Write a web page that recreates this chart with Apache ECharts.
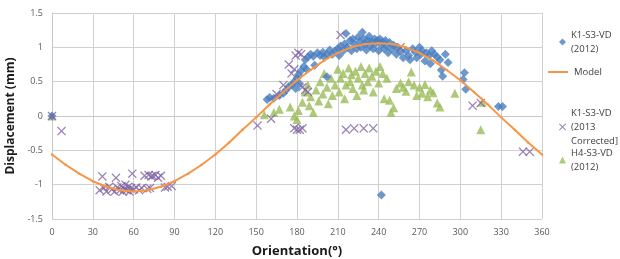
<!DOCTYPE html>
<html>
<head>
<meta charset="utf-8">
<script src="https://cdn.jsdelivr.net/npm/echarts@6/dist/echarts.min.js"></script>
<style>
html,body{margin:0;padding:0;background:#fff;}
#main{width:620px;height:259px;}
</style>
</head>
<body>
<div id="main"></div>
<script>
var xTicks = [0, 30, 60, 90, 120, 150, 180, 210, 240, 270, 300, 330, 360];
var yTicks = [-1.5, -1, -0.5, 0, 0.5, 1, 1.5];
var seriesNames = ['K1-S3-VD (2012)', 'Model', 'K1-S3-VD (2013 Corrected)', 'H4-S3-VD (2012)'];
var legendLabels = ['K1-S3-VD\n(2012)', 'Model', 'K1-S3-VD\n(2013\nCorrected]', 'H4-S3-VD\n(2012)'];
var colorList = ['#4a7ebf', '#f79646', '#8064a2', '#9bbb59'];

// 模型曲线 (每10度读一个点)
var modelAngle = [0,10,20,30,40,50,60,70,80,90,100,110,120,130,140,150,160,170,180,190,200,210,220,230,240,250,260,270,280,290,300,310,320,330,340,350,360];
var modelValue = [-0.56,-0.71,-0.84,-0.95,-1.03,-1.08,-1.1,-1.08,-1.03,-0.95,-0.84,-0.71,-0.56,-0.39,-0.2,-0.02,0.17,0.35,0.52,0.67,0.81,0.92,1.0,1.05,1.06,1.05,1.0,0.92,0.81,0.67,0.52,0.35,0.17,-0.02,-0.2,-0.39,-0.56];

// K1-S3-VD (2012)
var k1Data2012 = [
    [0,0],[158,0.24],[160,0.27],[163,0.26],[167,0.3],[170,0.33],[172,0.38],[174,0.43],[176,0.45],[178,0.5],
    [179,0.4],[180,0.55],[181,0.6],[182,0.47],[183,0.66],[185,0.72],[187,0.68],[186,0.82],[188,0.86],[190,0.9],
    [192,0.87],[193,0.74],[195,0.92],[197,0.88],[199,0.93],[200,0.86],[202,0.57],[202,0.9],[204,0.96],[206,0.9],
    [208,0.95],[210,0.98],[211,0.88],[212,1.02],[214,0.95],[215,1.05],[216,1.2],[217,1.0],[219,1.1],[220,0.95],
    [221,1.12],[222,1.05],[224,0.98],[225,1.15],[226,1.08],[227,1.0],[228,1.22],[229,1.12],[230,1.05],[231,0.96],
    [232,1.1],[233,1.16],[234,1.02],[235,1.08],[236,0.98],[237,1.12],[238,1.06],[239,1.1],[240,0.95],[241,1.12],
    [242,1.04],[243,1.08],[244,0.98],[245,1.1],[246,1.02],[247,0.92],[248,1.07],[250,0.97],[251,1.03],[253,0.9],
    [254,1.0],[256,0.94],[258,0.85],[260,0.95],[262,0.88],[263,0.82],[265,0.98],[267,0.93],[268,0.85],[270,1.0],
    [271,0.9],[272,0.95],[274,0.8],[275,0.92],[277,0.88],[278,0.76],[279,0.95],[281,0.9],[283,0.86],[285,0.82],
    [286,0.67],[287,0.58],[289,0.9],[291,0.78],[303,0.63],[302,0.53],[304,0.39],[328,0.14],[331,0.14],[242,-1.15]
];

// K1-S3-VD (2013 Corrected)
var k1Data2013 = [
    [0,0],[7,-0.22],[35,-1.08],[37,-0.88],[38,-1.05],[40,-1.1],[42,-1.03],[44,-1.07],[46,-1.1],[47,-0.9],
    [48,-1.04],[50,-1.08],[51,-1.02],[52,-1.1],[53,-1.06],[54,-1.0],[55,-1.08],[56,-1.03],[57,-1.1],[58,-1.05],
    [59,-0.84],[60,-1.07],[62,-1.04],[64,-1.08],[66,-1.05],[68,-0.87],[70,-1.06],[71,-0.86],[72,-1.05],[73,-0.88],
    [74,-0.87],[76,-0.86],[78,-0.9],[80,-0.87],[83,-1.04],[85,-1.03],[88,-1.02],
    [151,-0.14],[161,-0.04],[165,0.32],[170,0.45],[174,0.75],[176,0.62],[178,0.68],[179,0.88],[181,0.92],[183,0.9],
    [184,0.42],[186,0.38],[188,0.35],[178,-0.18],[180,-0.2],[182,-0.2],[184,-0.18],[212,1.18],[216,-0.2],[222,-0.18],
    [229,-0.18],[236,-0.18],[256,1.0],[309,0.15],[315,0.19],[346,-0.52],[351,-0.52]
];

// H4-S3-VD (2012)
var h4Data2012 = [
    [0,0],[156,0.02],[163,0.05],[167,0.1],[175,0.13],[178,0.0],[180,-0.05],[181,0.08],[184,0.2],[186,0.35],
    [188,0.45],[189,0.15],[190,0.28],[192,0.05],[194,0.38],[196,0.22],[197,0.5],[199,0.32],[200,0.62],[202,0.42],
    [203,0.18],[205,0.55],[206,0.3],[208,0.45],[210,0.68],[211,0.35],[212,0.55],[214,0.62],[215,0.25],[216,0.45],
    [218,0.7],[219,0.5],[220,0.6],[221,0.4],[223,0.65],[224,0.3],[225,0.55],[227,0.72],[228,0.45],[229,0.38],
    [230,0.62],[232,0.5],[233,0.7],[235,0.58],[236,0.35],[238,0.65],[240,0.48],[241,0.72],[243,0.62],[244,0.25],
    [246,0.55],[248,0.23],[249,0.05],[251,0.12],[253,0.4],[256,0.48],[258,0.42],[260,0.36],[262,0.5],[264,0.64],
    [266,0.45],[268,0.3],[270,0.42],[272,0.33],[274,0.46],[276,0.28],[278,0.38],[280,0.34],[283,0.19],[285,0.13],
    [296,0.33],[316,0.2],[315,-0.2]
];

var crossPath = 'path://M0,1 L1,0 L5,4 L9,0 L10,1 L6,5 L10,9 L9,10 L5,6 L1,10 L0,9 L4,5 Z';
var linePath = 'path://M0,0 L20,0 L20,2 L0,2 Z';

var myChart = echarts.init(document.getElementById('main'));

var modelData = [];
for (var i = 0; i < modelAngle.length; i++) {
    modelData.push([modelAngle[i], modelValue[i]]);
}

var legendTops = [28, 65, 106, 146];
var legendLefts = [559, 548, 559, 559];
var legendIcons = ['diamond', linePath, crossPath, 'triangle'];
var legends = [];
for (var k = 0; k < seriesNames.length; k++) {
    legends.push({
        data: [{name: seriesNames[k], icon: legendIcons[k]}],
        left: legendLefts[k],
        top: legendTops[k],
        padding: 0,
        orient: 'vertical',
        itemWidth: k == 1 ? 22 : 7,
        itemHeight: k == 1 ? 2 : 7,
        selectedMode: false,
        formatter: (function (idx) {
            return function () { return legendLabels[idx]; };
        })(k),
        textStyle: {
            fontFamily: 'Open Sans',
            fontSize: 9.5,
            color: '#404040',
            lineHeight: 14
        }
    });
}

var option = {
    backgroundColor: '#fff',
    animation: false,
    grid: {
        left: 52,
        right: 78,
        top: 13,
        bottom: 40,
        containLabel: false,
        outerBoundsMode: 'none'
    },
    legend: legends,
    xAxis: {
        type: 'value',
        min: 0,
        max: 360,
        interval: 30,
        name: 'Orientation(°)',
        nameLocation: 'middle',
        nameGap: 26,
        nameTextStyle: {
            fontFamily: 'Open Sans',
            fontWeight: 'bold',
            fontSize: 13,
            color: '#1a1a1a'
        },
        axisLine: {show: true, lineStyle: {color: '#c8c8c8'}},
        axisTick: {show: false},
        axisLabel: {
            margin: 9,
            fontFamily: 'Open Sans',
            fontSize: 9,
            color: '#595959',
            formatter: function (v) { return xTicks.indexOf(v) >= 0 ? String(v) : ''; }
        },
        splitLine: {show: true, lineStyle: {color: '#d0d0d0'}}
    },
    yAxis: {
        type: 'value',
        min: -1.5,
        max: 1.5,
        interval: 0.5,
        name: 'Displacement (mm)',
        nameLocation: 'middle',
        nameGap: 31,
        nameTextStyle: {
            fontFamily: 'Open Sans',
            fontWeight: 'bold',
            fontSize: 12,
            color: '#1a1a1a'
        },
        axisLine: {show: true, lineStyle: {color: '#c8c8c8'}},
        axisTick: {show: false},
        axisLabel: {
            margin: 9,
            fontFamily: 'Open Sans',
            fontSize: 9,
            color: '#595959',
            formatter: function (v) { return yTicks.indexOf(v) >= 0 ? String(v) : ''; }
        },
        splitLine: {show: true, lineStyle: {color: '#d0d0d0'}}
    },
    series: [
        {
            name: seriesNames[0],
            type: 'scatter',
            symbol: 'diamond',
            symbolSize: 9,
            itemStyle: {color: colorList[0]},
            data: k1Data2012,
            z: 3
        },
        {
            name: seriesNames[1],
            type: 'line',
            symbol: 'circle',
            symbolSize: 2.5,
            showSymbol: true,
            lineStyle: {color: colorList[1], width: 2},
            itemStyle: {color: colorList[1]},
            data: modelData,
            z: 5
        },
        {
            name: seriesNames[2],
            type: 'scatter',
            symbol: crossPath,
            symbolSize: 9,
            itemStyle: {color: colorList[2]},
            data: k1Data2013,
            z: 4
        },
        {
            name: seriesNames[3],
            type: 'scatter',
            symbol: 'triangle',
            symbolSize: 9,
            itemStyle: {color: colorList[3]},
            data: h4Data2012,
            z: 2
        }
    ]
};
myChart.setOption(option);
</script>
</body>
</html>
